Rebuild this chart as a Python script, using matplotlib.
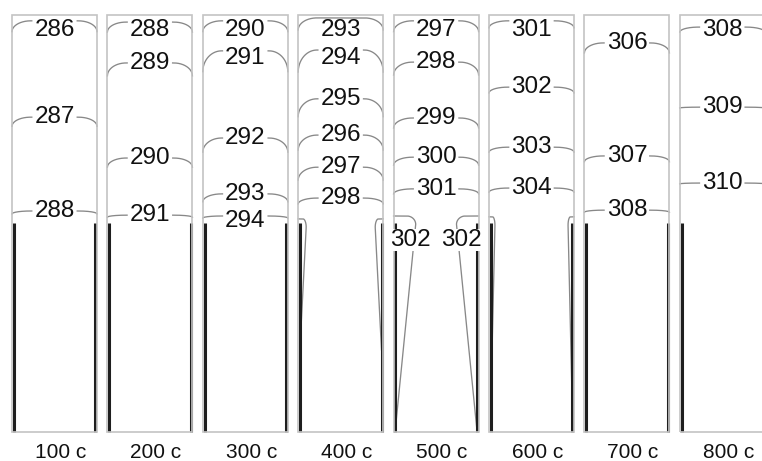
import numpy as np
import matplotlib.pyplot as plt
from matplotlib.patches import Rectangle

plt.rcParams['font.family'] = ['Liberation Sans', 'DejaVu Sans']

runs = ['100 c', '200 c', '300 c', '400 c', '500 c', '600 c', '700 c', '800 c']

# isotherm values for each run and their height in the vessel (fraction of height)
levels = [
    [286, 287, 288],
    [288, 289, 290, 291],
    [290, 291, 292, 293, 294],
    [293, 294, 295, 296, 297, 298],
    [297, 298, 299, 300, 301],
    [301, 302, 303, 304],
    [306, 307, 308],
    [308, 309, 310],
]
heights = [
    [0.986, 0.755, 0.530],
    [0.983, 0.885, 0.657, 0.520],
    [0.986, 0.914, 0.705, 0.571, 0.518],
    [0.993, 0.916, 0.799, 0.712, 0.635, 0.561],
    [0.986, 0.887, 0.753, 0.659, 0.583],
    [0.986, 0.827, 0.683, 0.585],
    [0.933, 0.662, 0.532],
    [0.971, 0.779, 0.597],
]
# how far each isotherm sags where it meets the side wall
sags = [
    [0.026, 0.022, 0.007],
    [0.024, 0.031, 0.022, 0.005],
    [0.026, 0.050, 0.034, 0.019, 0.005],
    [0.029, 0.053, 0.043, 0.036, 0.031, 0.014],
    [0.026, 0.031, 0.024, 0.019, 0.012],
    [0.017, 0.014, 0.012, 0.010],
    [0.024, 0.014, 0.005],
    [0.012, 0.002, 0.002],
]

# thin isotherms hugging the heated wall
wall_runs = [3, 4, 5]
wall_levels = [299, 302, 305]
wall_tops = [0.511, 0.518, 0.516]
wall_widths = [0.094, 0.26, 0.07]
wall_bottoms = [0.197, 0.005, 0.053]
wall_labelled = [False, True, False]

heater_top = 0.501

LINE = '#888888'
EDGE = '#c4c4c4'
WALL = '#1e1e1e'

xs = np.linspace(0, 1, 800)


def isotherm(h, sag, bend=0.22):
    s = np.clip(np.minimum(xs, 1 - xs) / bend, 0, 1)
    return h - sag * (1 - np.sqrt(1 - (1 - s) ** 2))


def wall_curve(top, width, bottom, drop=0.02):
    # flat along the top, rounded corner, then straight back down to the wall
    rx = 0.4 * width
    cx = width - rx
    t = np.linspace(0, np.pi / 2, 40)
    px = np.concatenate([np.linspace(0, cx, 40), cx + rx * np.sin(t),
                         np.linspace(width, 0.02, 400)])
    py = np.concatenate([np.full(40, top), top - drop * (1 - np.cos(t)),
                         np.linspace(top - drop, bottom, 400)])
    return px, py


def cut_gaps(ax, px, py, texts, renderer, pad=2.5):
    pts = ax.transData.transform(np.column_stack([px, py]))
    py = py.astype(float).copy()
    for t in texts:
        bb = t.get_window_extent(renderer)
        inside = ((pts[:, 0] > bb.x0 - pad) & (pts[:, 0] < bb.x1 + pad) &
                  (pts[:, 1] > bb.y0) & (pts[:, 1] < bb.y1))
        py[inside] = np.nan
    return py


def label(ax, x, y, val):
    return ax.text(x, y, str(val), ha='center', va='center', fontsize=17.5,
                   color='#111111', zorder=6,
                   bbox=dict(boxstyle='square,pad=0', fc='white', ec='none'))


fig = plt.figure(figsize=(7.62, 4.61), dpi=100)
renderer = fig.canvas.get_renderer()

for i, name in enumerate(runs):
    ax = fig.add_axes([(12 + i * 95.4) / 762, 29 / 461, 85 / 762, 417 / 461])
    ax.set_xlim(0, 1)
    ax.set_ylim(0, 1)
    ax.axis('off')

    ax.add_patch(Rectangle((0, 0), 1, 1, fill=False, ec=EDGE, lw=1.2,
                           clip_on=False, zorder=4))
    for wx in (0.02, 0.98):
        ax.plot([wx, wx], [0, heater_top], color=WALL, lw=2.2,
                solid_capstyle='butt', clip_on=False, zorder=3)

    # labels go on the line, pushed down when they would crowd the one above
    label_y = 0.963 + 0.066
    for lev, h, sag in zip(levels[i], heights[i], sags[i]):
        label_y = min(h, label_y - 0.066)
        t = label(ax, 0.5, label_y, lev)
        py = cut_gaps(ax, xs, isotherm(h, sag), [t], renderer)
        ax.plot(xs, py, color=LINE, lw=0.95, clip_on=False, zorder=2)

    for run, lev, top, w, bot, lab in zip(wall_runs, wall_levels, wall_tops,
                                          wall_widths, wall_bottoms, wall_labelled):
        if run != i:
            continue
        px, py = wall_curve(top, w, bot)
        for side in (px, 1 - px):
            texts = []
            if lab:
                lx = 0.77 * w if side is px else 1 - 0.77 * w
                texts.append(label(ax, lx, top - 0.058, lev))
            ax.plot(side, cut_gaps(ax, side, py, texts, renderer),
                    color=LINE, lw=0.95, clip_on=False, zorder=2)

    ax.text(0.57, -0.05, name, transform=ax.transAxes, ha='center',
            va='center', fontsize=15, color='#111111')

fig.savefig('out.png', dpi=100)
